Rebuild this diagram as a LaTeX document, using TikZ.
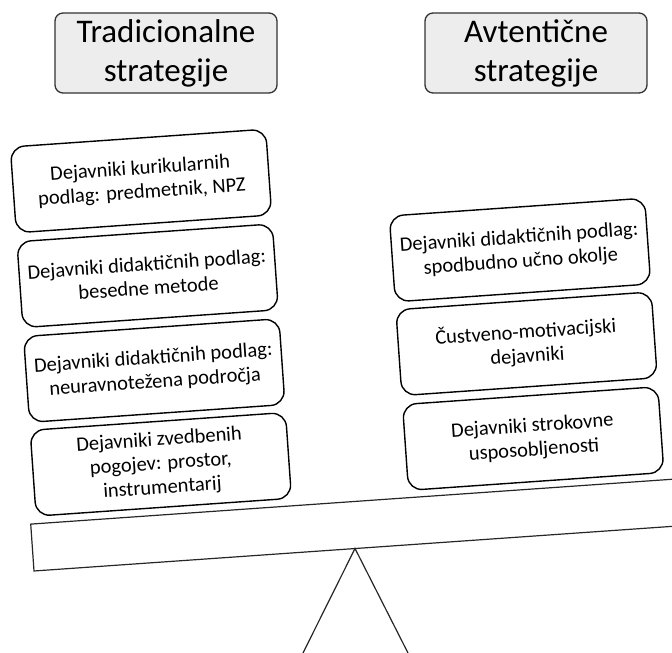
\documentclass[tikz,border=0pt]{standalone}
\usepackage{fontspec}
\setmainfont{Carlito}
\begin{document}
\begin{tikzpicture}[
  x=1pt, y=1pt,
  hdr/.style={draw=black!80,line width=1.3pt,fill=black!7,rounded corners=8pt,
              minimum width=222pt,minimum height=80pt,align=center,inner sep=2pt,
              font=\fontsize{33}{39}\selectfont},
  fact/.style={draw=black,line width=1.4pt,fill=white,rounded corners=14pt,
               minimum width=256pt,minimum height=86pt,align=center,inner sep=2pt,
               font=\fontsize{20.5}{24}\selectfont},
  beam/.style={draw=black!85,line width=1.2pt}]

\useasboundingbox (0,0) rectangle (672,653);
\clip (0,0) rectangle (672,653);

% seesaw
\draw[beam, rotate around={4:(34,82)}] (34,82) rectangle ++(700,47);
\coordinate (apex) at (355,104.5);
\coordinate (footl) at (303,0);
\coordinate (footr) at (408,0);
\draw[beam] (footl) -- (apex) -- (footr);

\node[hdr] (trad) at (166,600) {Tradicionalne\\strategije};
\node[hdr] (avt) at (536,600) {Avtentične\\strategije};

\begin{scope}[shift={(141,472)}, rotate=4, transform shape]
\node[fact] (l1) at (0,0)    {Dejavniki kurikularnih\\podlag: predmetnik, NPZ};
\node[fact] (l2) at (0,-95)  {Dejavniki didaktičnih podlag:\\besedne metode};
\node[fact] (l3) at (0,-190) {Dejavniki didaktičnih podlag:\\neuravnotežena področja};
\node[fact] (l4) at (0,-284) {Dejavniki zvedbenih\\pogojev: prostor,\\instrumentarij};
\end{scope}

\begin{scope}[shift={(520,403)}, rotate=4, transform shape]
\node[fact] (r1) at (0,0)    {Dejavniki didaktičnih podlag:\\spodbudno učno okolje};
\node[fact] (r2) at (0,-94)  {Čustveno-motivacijski\\dejavniki};
\node[fact] (r3) at (0,-189) {Dejavniki strokovne\\usposobljenosti};
\end{scope}
\end{tikzpicture}
\end{document}
